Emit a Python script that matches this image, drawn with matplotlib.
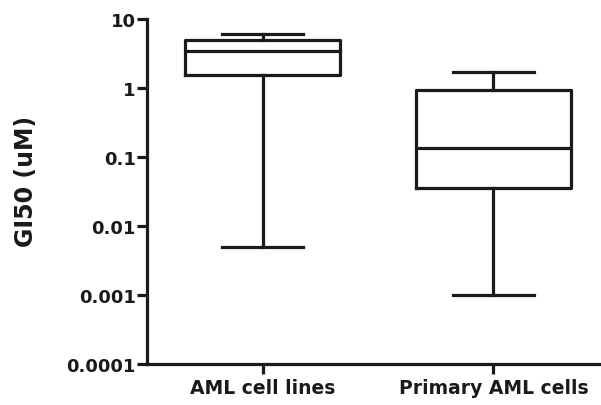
import matplotlib
matplotlib.use("Agg")
import matplotlib.pyplot as plt

# valores (GI50 em uM)
categorias = ["AML cell lines", "Primary AML cells"]
minimos = [0.005, 0.001]
q1 = [1.54, 0.036]
medianas = [3.43, 0.135]
q3 = [4.9, 0.94]
maximos = [6.1, 1.72]
yticks = [0.0001, 0.001, 0.01, 0.1, 1, 10]
ytick_labels = ["0.0001", "0.001", "0.01", "0.1", "1", "10"]

cor = "#1a1a1a"
lw = 2.3

fig = plt.figure(figsize=(6.01, 4.06), dpi=100)
ax = fig.add_axes([147 / 601, 1 - 365 / 406, (601 - 147) / 601, (365 - 20) / 406])

stats = []
for i, nome in enumerate(categorias):
    stats.append({
        "label": nome,
        "whislo": minimos[i],
        "q1": q1[i],
        "med": medianas[i],
        "q3": q3[i],
        "whishi": maximos[i],
    })

props = dict(color=cor, linewidth=lw)
ax.bxp(stats, positions=[1, 2], widths=0.67, capwidths=0.35, showfliers=False,
       boxprops=props, whiskerprops=props, capprops=props,
       medianprops=dict(color=cor, linewidth=lw))

ax.set_yscale("log")
ax.set_ylim(0.0001, 10)
ax.set_xlim(0.5, 0.5 + (601 - 147) / 231)
ax.set_yticks(yticks)
ax.set_yticklabels(ytick_labels)
ax.yaxis.set_minor_locator(matplotlib.ticker.NullLocator())
ax.set_xticks([1, 2])
ax.set_xticklabels(categorias)

for lado in ["top", "right"]:
    ax.spines[lado].set_visible(False)
for lado in ["left", "bottom"]:
    ax.spines[lado].set_linewidth(lw)
    ax.spines[lado].set_color(cor)

ax.tick_params(axis="both", length=7, width=lw, color=cor, labelcolor=cor)
ax.tick_params(axis="y", pad=1)
ax.tick_params(axis="x", pad=3)
for t in ax.get_yticklabels():
    t.set_fontsize(13)
    t.set_fontweight("bold")
for t in ax.get_xticklabels():
    t.set_fontsize(13.5)
    t.set_fontweight("bold")

ax.set_ylabel("GI50 (uM)", fontsize=17, fontweight="bold", color=cor)
ax.yaxis.set_label_coords(-0.24, 0.533)

fig.savefig("out.png", dpi=100)
